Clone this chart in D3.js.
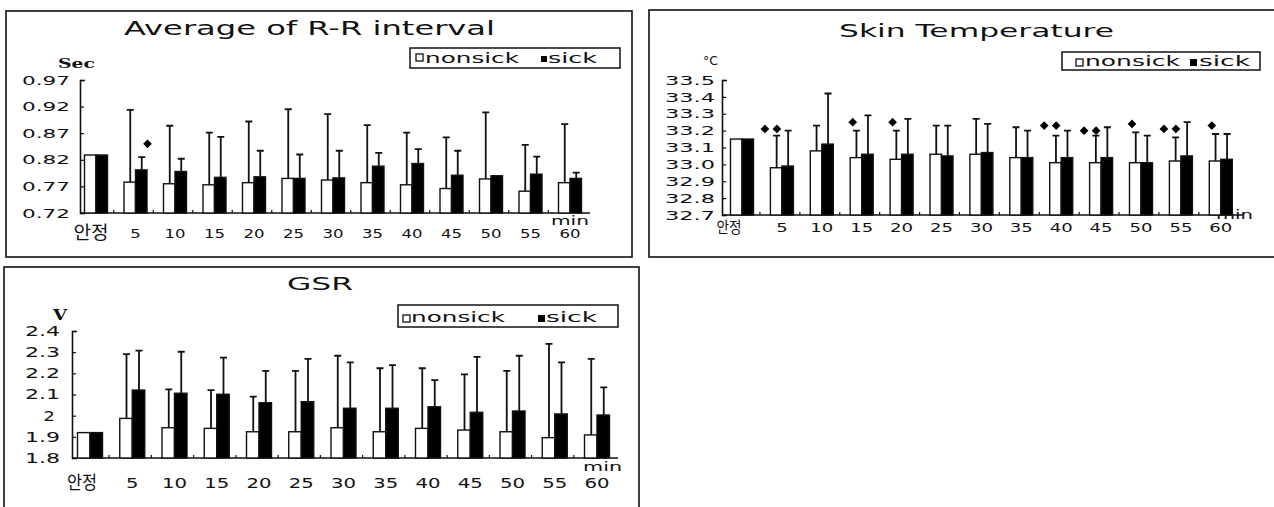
<!DOCTYPE html>
<html>
<head>
<meta charset="utf-8">
<script src="https://cdn.jsdelivr.net/npm/d3@7"></script>
<style>
  body { margin: 0; background: #fff; }
  svg { display: block; }
  text { font-family: "DejaVu Sans", "Noto Sans CJK KR", sans-serif; fill: #111; }
</style>
</head>
<body>
<svg width="1274" height="507"></svg>
<script>
const svg = d3.select("svg");

// categories (minutes) shared by all three charts
const categories = ["안정", "5", "10", "15", "20", "25", "30", "35", "40", "45", "50", "55", "60"];
const seriesNames = ["nonsick", "sick"];

// R-R interval (sec)
const rrNonsick   = [0.829, 0.778, 0.775, 0.773, 0.777, 0.785, 0.782, 0.777, 0.773, 0.766, 0.784, 0.761, 0.777];
const rrNonsickSd = [0, 0.136, 0.109, 0.098, 0.115, 0.130, 0.124, 0.108, 0.098, 0.096, 0.125, 0.087, 0.110];
const rrSick      = [0.829, 0.801, 0.798, 0.787, 0.788, 0.785, 0.786, 0.808, 0.813, 0.791, 0.790, 0.793, 0.785];
const rrSickSd    = [0, 0.024, 0.024, 0.076, 0.049, 0.045, 0.051, 0.025, 0.027, 0.046, 0, 0.033, 0.011];
const rrMarkCount = [0, 1, 0, 0, 0, 0, 0, 0, 0, 0, 0, 0, 0];
const rrMarkValue = [0, 0.850, 0, 0, 0, 0, 0, 0, 0, 0, 0, 0, 0];
const rrTicks = [0.72, 0.77, 0.82, 0.87, 0.92, 0.97];

// skin temperature (°C)
const tempNonsick   = [33.15, 32.98, 33.08, 33.04, 33.03, 33.06, 33.06, 33.04, 33.01, 33.01, 33.01, 33.02, 33.02];
const tempNonsickSd = [0, 0.19, 0.15, 0.16, 0.17, 0.17, 0.21, 0.18, 0.16, 0.16, 0.18, 0.14, 0.16];
const tempSick      = [33.15, 32.99, 33.12, 33.06, 33.06, 33.05, 33.07, 33.04, 33.04, 33.04, 33.01, 33.05, 33.03];
const tempSickSd    = [0, 0.21, 0.30, 0.23, 0.21, 0.18, 0.17, 0.16, 0.16, 0.18, 0.16, 0.20, 0.15];
const tempMarkCount = [0, 2, 0, 1, 1, 0, 0, 0, 2, 2, 1, 2, 1];
const tempMarkValue = [0, 33.21, 0, 33.25, 33.25, 0, 0, 0, 33.23, 33.20, 33.24, 33.21, 33.23];
const tempTicks = [32.7, 32.8, 32.9, 33.0, 33.1, 33.2, 33.3, 33.4, 33.5];

// GSR (V)
const gsrNonsick   = [1.92, 1.987, 1.943, 1.940, 1.924, 1.924, 1.943, 1.924, 1.940, 1.932, 1.924, 1.896, 1.909];
const gsrNonsickSd = [0, 0.304, 0.181, 0.181, 0.166, 0.288, 0.340, 0.300, 0.284, 0.263, 0.288, 0.443, 0.359];
const gsrSick      = [1.92, 2.121, 2.106, 2.101, 2.061, 2.066, 2.035, 2.035, 2.042, 2.016, 2.022, 2.008, 2.003];
const gsrSickSd    = [0, 0.186, 0.196, 0.173, 0.151, 0.202, 0.217, 0.204, 0.126, 0.262, 0.261, 0.244, 0.131];
const gsrTicks = [1.8, 1.9, 2.0, 2.1, 2.2, 2.3, 2.4];

// stretch a text (glyphs too) to a given width, the scanned font is very wide
function fit(sel, w) {
  sel.attr("textLength", w).attr("lengthAdjust", "spacingAndGlyphs");
}

function drawPanel(p) {
  const g = svg.append("g");

  // frame
  g.append("rect")
    .attr("x", p.box[0]).attr("y", p.box[1])
    .attr("width", p.box[2] - p.box[0]).attr("height", p.box[3] - p.box[1])
    .attr("fill", "none").attr("stroke", "#111").attr("stroke-width", 1.6);

  // title
  g.append("text").attr("x", p.title.x).attr("y", p.title.y)
    .attr("font-size", p.title.size).text(p.title.text)
    .call(fit, p.title.w);

  const x = d3.scaleBand().domain(categories)
    .range([p.x0 - p.step / 2, p.x0 + (categories.length - 0.5) * p.step]);
  const sub = d3.scaleBand().domain(seriesNames).range([-p.barW, p.barW]);
  const y = d3.scaleLinear().domain([p.ticks[0], p.ticks[p.ticks.length - 1]]).range([p.yBottom, p.yTop]);
  const cx = c => x(c) + x.bandwidth() / 2;

  // y axis
  const yAxis = g.append("g").attr("transform", `translate(${p.axisX},0)`)
    .call(d3.axisLeft(y).tickValues(p.ticks).tickFormat(p.fmt)
      .tickSize(-4).tickSizeOuter(-5).tickPadding(p.pad));
  yAxis.select(".domain").attr("stroke", "#111").attr("stroke-width", 1.6);
  yAxis.selectAll(".tick line").attr("stroke", "#111").attr("stroke-width", 1.2);
  yAxis.selectAll(".tick text")
    .attr("font-size", p.tickSize).attr("fill", "#111").style("font-family", "DejaVu Sans")
    .each(function () {
      const t = d3.select(this);
      const s = t.text();
      if (s.length === 1) t.attr("dx", -5);
      t.call(fit, s.length * p.tickChar);
    });

  // x axis line with small group separators
  g.append("line").attr("x1", p.axisX).attr("x2", p.xEnd)
    .attr("y1", p.yBottom).attr("y2", p.yBottom)
    .attr("stroke", "#111").attr("stroke-width", 1.6);
  g.selectAll(".sep").data(categories.slice(1)).join("line")
    .attr("x1", d => x(d) - 2).attr("x2", d => x(d) - 2)
    .attr("y1", p.yBottom).attr("y2", p.yBottom - 3)
    .attr("stroke", "#111").attr("stroke-width", 1.2);

  // x labels
  g.selectAll(".xl").data(categories).join("text")
    .attr("x", (d, i) => cx(d) + (i === 0 ? p.koDx : 0))
    .attr("y", (d, i) => p.labelY + (i === 0 ? 1 : 0))
    .attr("text-anchor", "middle")
    .attr("font-size", (d, i) => i === 0 ? p.koSize : p.xSize)
    .style("font-family", (d, i) => i === 0 ? "Noto Sans CJK KR" : null)
    .text(d => d)
    .each(function (d, i) {
      d3.select(this).call(fit, i === 0 ? p.koW : d.length * p.xChar);
    });

  // units
  g.append("text").attr("x", p.unit.x).attr("y", p.unit.y)
    .attr("font-size", p.unit.size).attr("font-weight", p.unit.weight || "normal")
    .style("font-family", p.unit.family || null)
    .text(p.unit.text).call(fit, p.unit.w);
  g.append("text").attr("x", p.min.x).attr("y", p.min.y)
    .attr("font-size", 12).text("min").call(fit, p.min.w);

  // bars
  const rows = categories.map((c, i) => ({
    c,
    bars: [
      { k: "nonsick", v: p.non[i], sd: p.nonSd[i] },
      { k: "sick", v: p.sick[i], sd: p.sickSd[i] }
    ]
  }));

  const grp = g.selectAll(".grp").data(rows).join("g")
    .attr("transform", d => `translate(${cx(d.c)},0)`);

  // error bars first, so the bar outline sits on top
  grp.selectAll(".err").data(d => d.bars.filter(b => b.sd > 0)).join("path")
    .attr("d", b => {
      const m = sub(b.k) + sub.bandwidth() / 2 + 0.5;
      return `M${m},${y(b.v)}V${y(b.v + b.sd)}M${m - 3.5},${y(b.v + b.sd)}H${m + 3.5}`;
    })
    .attr("fill", "none").attr("stroke", "#111").attr("stroke-width", 1.8);

  grp.selectAll(".bar").data(d => d.bars).join("rect")
    .attr("x", b => sub(b.k))
    .attr("width", sub.bandwidth())
    .attr("y", b => y(b.v))
    .attr("height", b => p.yBottom - y(b.v))
    .attr("fill", b => b.k === "sick" ? "#000" : "#fff")
    .attr("stroke", "#111").attr("stroke-width", 1.4);

  // significance marks (square turned 45°)
  const mark = d3.symbol().type(d3.symbolSquare).size(p.markSize);
  categories.forEach((c, i) => {
    const n = p.markCount[i];
    if (!n) return;
    const offs = n === 1 ? [p.markDx1] : p.markDx2;
    offs.forEach(dx => {
      g.append("path").attr("d", mark)
        .attr("transform", `translate(${cx(c) + dx},${y(p.markValue[i])}) rotate(45)`)
        .attr("fill", "#000");
    });
  });

  // legend
  const L = p.legend;
  g.append("rect").attr("x", L.x0).attr("y", L.y0)
    .attr("width", L.x1 - L.x0).attr("height", L.y1 - L.y0)
    .attr("fill", "#fff").attr("stroke", "#111").attr("stroke-width", 1.5);
  g.append("rect").attr("x", L.sq1[0]).attr("y", L.sq1[1]).attr("width", L.sq1[2]).attr("height", L.sq1[2])
    .attr("fill", "#fff").attr("stroke", "#111").attr("stroke-width", 1.3);
  g.append("rect").attr("x", L.sq2[0]).attr("y", L.sq2[1]).attr("width", L.sq2[2]).attr("height", L.sq2[2])
    .attr("fill", "#000");
  g.append("text").attr("x", L.t1[0]).attr("y", L.base).attr("font-size", 14)
    .text(seriesNames[0]).call(fit, L.t1[1]);
  g.append("text").attr("x", L.t2[0]).attr("y", L.base).attr("font-size", 14)
    .text(seriesNames[1]).call(fit, L.t2[1]);
}

drawPanel({
  box: [6, 11, 632, 257],
  title: { text: "Average of R-R interval", x: 124, y: 35, size: 20, w: 371 },
  ticks: rrTicks, fmt: d3.format(".2f"), pad: 10, tickSize: 13, tickChar: 12,
  axisX: 80, yTop: 80, yBottom: 213, xEnd: 590,
  x0: 96, step: 39.5, barW: 11.5,
  labelY: 238, xSize: 13, xChar: 10.5, koSize: 18, koW: 35, koDx: -5,
  unit: { text: "Sec", x: 58, y: 68, size: 13, w: 37, weight: "bold", family: "DejaVu Serif" },
  min: { x: 551, y: 225, w: 38 },
  non: rrNonsick, nonSd: rrNonsickSd, sick: rrSick, sickSd: rrSickSd,
  markCount: rrMarkCount, markValue: rrMarkValue, markSize: 38, markDx1: 12, markDx2: [6, 18],
  legend: { x0: 410, y0: 48, x1: 620, y1: 68, sq1: [416, 54, 7], sq2: [541, 56, 6],
            t1: [425, 94], t2: [548, 49], base: 63 }
});

drawPanel({
  box: [649, 10, 1290, 257],
  title: { text: "Skin Temperature", x: 839, y: 37, size: 17, w: 275 },
  ticks: tempTicks, fmt: d3.format(".1f"), pad: 7, tickSize: 13, tickChar: 12.5,
  axisX: 722, yTop: 80, yBottom: 215, xEnd: 1243,
  x0: 742, step: 39.9, barW: 11.5,
  labelY: 232, xSize: 13, xChar: 11.5, koSize: 16, koW: 25, koDx: -13,
  unit: { text: "°C", x: 703, y: 65, size: 12, w: 15 },
  min: { x: 1216, y: 219, w: 37 },
  non: tempNonsick, nonSd: tempNonsickSd, sick: tempSick, sickSd: tempSickSd,
  markCount: tempMarkCount, markValue: tempMarkValue, markSize: 38, markDx1: -9, markDx2: [-17, -5],
  legend: { x0: 1062, y0: 52, x1: 1260, y1: 70, sq1: [1076, 59, 7], sq2: [1190, 59, 7],
            t1: [1085, 95], t2: [1199, 51], base: 66 }
});

drawPanel({
  box: [4, 267, 639, 530],
  title: { text: "GSR", x: 287, y: 290, size: 17, w: 66 },
  ticks: gsrTicks, fmt: d => d === 2 ? "2" : d3.format(".1f")(d), pad: 12, tickSize: 14, tickChar: 11.7,
  axisX: 72, yTop: 331, yBottom: 458, xEnd: 618,
  x0: 90, step: 42.25, barW: 12.5,
  labelY: 488, xSize: 14, xChar: 12.5, koSize: 18, koW: 30, koDx: -8,
  unit: { text: "V", x: 53, y: 320, size: 15, w: 14, weight: "bold", family: "DejaVu Serif" },
  min: { x: 583, y: 471, w: 39 },
  non: gsrNonsick, nonSd: gsrNonsickSd, sick: gsrSick, sickSd: gsrSickSd,
  markCount: categories.map(() => 0), markValue: categories.map(() => 0), markSize: 30, markDx1: 0, markDx2: [0, 0],
  legend: { x0: 398, y0: 305, x1: 618, y1: 327, sq1: [403, 315, 7], sq2: [538, 315, 7],
            t1: [411, 94], t2: [546, 51], base: 322 }
});
</script>
</body>
</html>
